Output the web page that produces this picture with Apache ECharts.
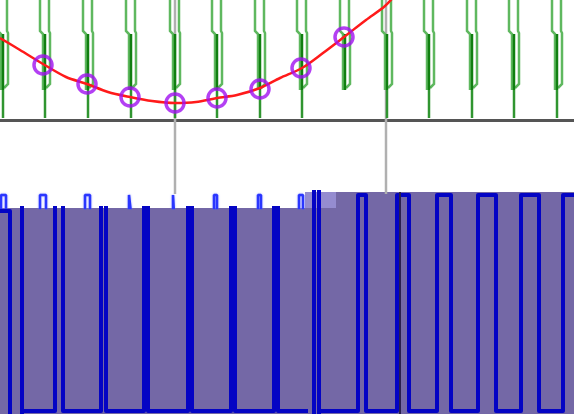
<!DOCTYPE html>
<html>
<head>
<meta charset="utf-8">
<script src="https://cdn.jsdelivr.net/npm/echarts@6/dist/echarts.min.js"></script>
<style>html,body{margin:0;padding:0;background:#fff}#c{width:574px;height:414px}</style>
</head>
<body>
<div id="c"></div>
<script>
// ---- data (time axis shared by all panels; levels per panel) ----
// top panel: clock cycle centres and where each cycle's lower stroke ends (level)
const clockCenters = [2, 44, 87, 130, 174, 216, 259, 301, 344, 386, 428, 471, 513, 556];
const clockTail    = [2, 2, 2, 2, 2, 2, 2, 2, 30, 2, 2, 2, 2, 2];
// red trace (level in top panel, 0..120)
const curveT = [0, 20, 43, 66, 87, 108, 130, 152, 175, 196, 217, 237, 260, 280, 302, 323, 344, 366, 385, 396];
const curveV = [82, 70, 56, 43, 36, 28, 23, 19, 17, 18, 22, 25, 32, 42, 52, 67, 83, 100, 114, 126];
// sampled points (purple rings)
const sampleT = [43, 87, 130, 175, 217, 260, 301, 344];
const sampleV = [55, 36, 23, 17, 22, 31, 52, 83];
// cursors
const cursorT = [175, 386];
const markerT = [400];
// narrow pulses in the white strip: rise / fall times
const pulseRise = [1, 40, 85, 129, 173, 214, 258, 299];
const pulseFall = [6, 46, 90, 131, 174, 217, 261, 303];
const pulseHigh = 13;
// lower-left waveform (time, level)
const leftT = [0, 10, 10, 22, 22, 22, 55, 55, 63, 63, 101, 101, 106, 106, 144, 144, 148, 148, 188, 188, 192, 192, 231, 231, 235, 235, 274, 274, 278, 278, 308];
const leftV = [203, 203, -20, -20, 260, 3, 3, 260, 260, 3, 3, 260, 260, 3, 3, 260, 260, 3, 3, 260, 260, 3, 3, 260, 260, 3, 3, 260, 260, 3, 3];
// lower-right waveform (time, level)
const rightT = [314, 314, 319, 319, 319, 358, 358, 366, 366, 397, 397, 409, 409, 437, 437, 451, 451, 478, 478, 496, 496, 521, 521, 539, 539, 563, 563, 574];
const rightV = [240, -20, -20, 240, 3, 3, 219, 219, 3, 3, 219, 219, 3, 3, 219, 219, 3, 3, 219, 219, 3, 3, 219, 219, 3, 3, 219, 219];

// ---- build ----
const zip = (a, b) => a.map((v, i) => [v, b[i]]);
const pulseData = [];
pulseRise.forEach((r, i) => {
  pulseData.push([r, -5], [r, pulseHigh], [pulseFall[i], pulseHigh], [pulseFall[i], -5]);
});

const chart = echarts.init(document.getElementById('c'), null, {renderer: 'canvas'});
const hidden = {show: false};
function xa(grid, min, max, extra) {
  return Object.assign({type: 'value', gridIndex: grid, min: min, max: max, show: false}, extra || {});
}
function ya(grid, min, max) {
  return {type: 'value', gridIndex: grid, min: min, max: max, show: false};
}
const purple = '#7468a6';

function vline(color, width) {
  return function (params, api) {
    const t = api.value(0);
    const a = api.coord([t, 0]);
    const b = api.coord([t, 1]);
    return {type: 'line', shape: {x1: a[0], y1: a[1], x2: b[0], y2: b[1]},
            style: {stroke: color, lineWidth: width}};
  };
}

chart.setOption({
  animation: false,
  backgroundColor: '#ffffff',
  grid: [
    {left: 0, top: 0, width: 574, height: 120},
    {left: 0, top: 0, width: 574, height: 194},
    {left: 0, top: 190, width: 308, height: 18},
    {left: 0, top: 208, width: 308, height: 206, show: true, backgroundColor: purple, borderWidth: 0},
    {left: 308, top: 192, width: 266, height: 222, show: true, backgroundColor: purple, borderWidth: 0},
    {left: 305, top: 192, width: 31, height: 16, show: true, backgroundColor: '#958cd0', borderWidth: 0}
  ],
  xAxis: [
    xa(0, 0, 574, {show: true, axisLine: {show: true, onZero: false, lineStyle: {color: '#555555', width: 3}},
                   axisTick: hidden, axisLabel: hidden, splitLine: hidden}),
    xa(1, 0, 574), xa(2, 0, 308), xa(3, 0, 308), xa(4, 308, 574), xa(5, 305, 336)
  ],
  yAxis: [ya(0, 0, 120), ya(1, 0, 1), ya(2, 0, 18), ya(3, 0, 206), ya(4, 0, 222), ya(5, 0, 16)],
  series: [
    {type: 'custom', xAxisIndex: 1, yAxisIndex: 1, z: 1, clip: true,
     data: cursorT.map(t => [t]), renderItem: vline('#b0b0b0', 2.5)},
    {type: 'custom', xAxisIndex: 0, yAxisIndex: 0, z: 2, clip: true,
     data: zip(clockCenters, clockTail),
     renderItem: function (params, api) {
       const c = api.value(0), tail = api.value(1);
       const x = api.coord([c, 0])[0];
       const y = v => api.coord([c, v])[1];
       const light = '#5fb85f', dark = '#107f10', mid = '#309530';
       const kids = [
         {type: 'polyline', shape: {points: [[x - 4, y(124)], [x - 4, y(89)], [x - 1, y(86)], [x - 1, y(Math.max(tail, 30))]]},
          style: {stroke: light, lineWidth: 2.5, fill: null}},
         {type: 'polyline', shape: {points: [[x + 5, y(124)], [x + 5, y(89)], [x + 6, y(87)], [x + 6, y(36)], [x + 2, y(32)]]},
          style: {stroke: light, lineWidth: 2.5, fill: null}},
         {type: 'line', shape: {x1: x + 1, y1: y(86), x2: x + 1, y2: y(30)},
          style: {stroke: dark, lineWidth: 2.5}}
       ];
       if (tail < 30) {
         kids.push({type: 'line', shape: {x1: x + 1, y1: y(30), x2: x + 1, y2: y(tail)},
                    style: {stroke: mid, lineWidth: 2.5}});
       }
       return {type: 'group', children: kids};
     }},
    {type: 'line', xAxisIndex: 0, yAxisIndex: 0, z: 3, data: zip(curveT, curveV),
     smooth: 0.3, showSymbol: false, symbol: 'none',
     lineStyle: {color: '#ff1a1a', width: 2.5}},
    {type: 'scatter', xAxisIndex: 0, yAxisIndex: 0, z: 4, data: zip(sampleT, sampleV),
     symbol: 'circle', symbolSize: 18,
     itemStyle: {color: 'rgba(0,0,0,0)', borderColor: '#a010f0', borderWidth: 3.5}},
    {type: 'line', xAxisIndex: 2, yAxisIndex: 2, z: 3, data: pulseData,
     showSymbol: false, symbol: 'none',
     lineStyle: {color: '#2a36ff', width: 2.5, shadowBlur: 2, shadowColor: 'rgba(120,130,255,0.8)'}},
    {type: 'line', xAxisIndex: 3, yAxisIndex: 3, z: 3, data: zip(leftT, leftV),
     showSymbol: false, symbol: 'none',
     lineStyle: {color: '#0404c4', width: 4, join: 'round'}},
    {type: 'line', xAxisIndex: 4, yAxisIndex: 4, z: 3, data: zip(rightT, rightV),
     showSymbol: false, symbol: 'none',
     lineStyle: {color: '#0404c4', width: 4, join: 'round'}},
    {type: 'custom', xAxisIndex: 4, yAxisIndex: 4, z: 4, clip: true,
     data: markerT.map(t => [t]),
     renderItem: function (params, api) {
       const t = api.value(0);
       const a = api.coord([t, 0]);
       const b = api.coord([t, 222]);
       return {type: 'line', shape: {x1: a[0], y1: a[1], x2: b[0], y2: b[1]},
               style: {stroke: '#2a2050', lineWidth: 2}};
     }}
  ]
});
</script>
</body>
</html>
